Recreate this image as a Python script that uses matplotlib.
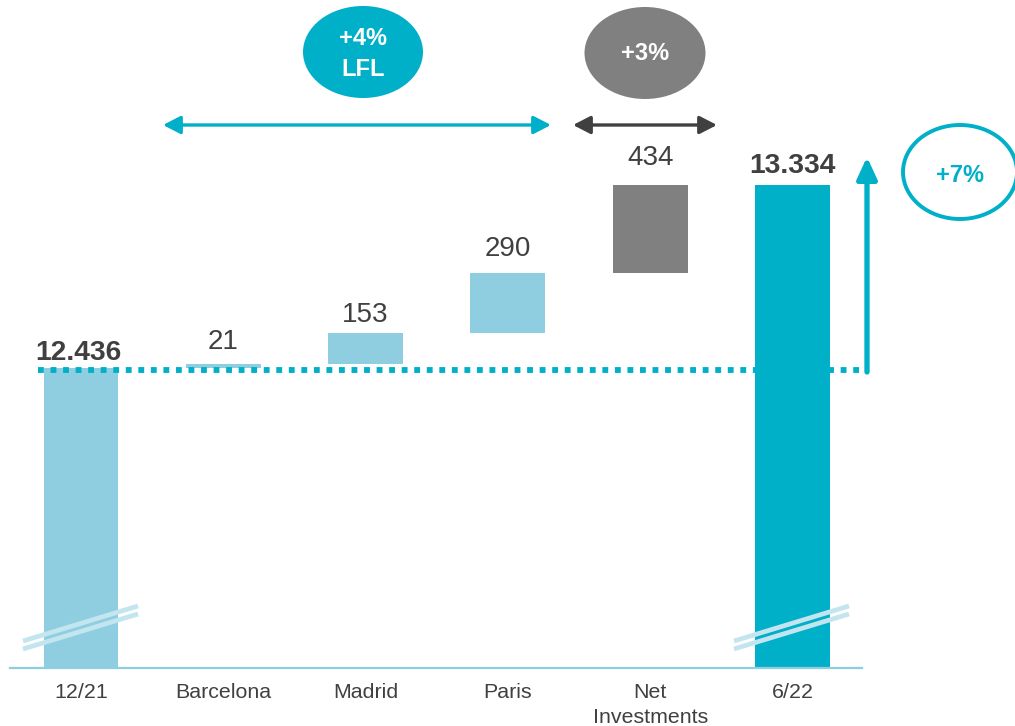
import matplotlib
matplotlib.use("Agg")
import matplotlib.pyplot as plt
from matplotlib.patches import Ellipse, FancyArrowPatch

plt.rcParams['font.family'] = ['Liberation Sans', 'DejaVu Sans']

categories = ["12/21", "Barcelona", "Madrid", "Paris", "Net\nInvestments", "6/22"]
start_value = 12436
deltas = [21, 153, 290, 434]
end_value = 13334
value_labels = ["12.436", "21", "153", "290", "434", "13.334"]
lfl_label = "+4%\nLFL"
inv_label = "+3%"
total_label = "+7%"

LIGHT = "#8fcee0"
TEAL = "#00afc8"
GRAY = "#808080"
DARK = "#404040"
BREAK = "#c3e5ef"

W, H = 1015, 726
fig = plt.figure(figsize=(W / 100, H / 100), dpi=100)

def fx(x):
    return x / W

def fy(y):
    return 1 - y / H

ax = fig.add_axes([fx(10), fy(668), fx(862) - fx(10), fy(0) - fy(668)])
x0_px, step_px = 81, 142.3
ax.set_xlim((10 - x0_px) / step_px, (862 - x0_px) / step_px)
units_per_px = (end_value - start_value) / 183.0
ymin = start_value - 300 * units_per_px
ymax = start_value + 368 * units_per_px
ax.set_ylim(ymin, ymax)

bw = 0.527
bottoms = [ymin]
heights = [start_value - ymin]
colors = [LIGHT]
cum = start_value
for d in deltas[:3]:
    bottoms.append(cum)
    heights.append(d)
    colors.append(LIGHT)
    cum += d
bottoms.append(cum)
heights.append(deltas[3])
colors.append(GRAY)
cum += deltas[3]
bottoms.append(ymin)
heights.append(end_value - ymin)
colors.append(TEAL)
xs = list(range(len(categories)))
ax.bar(xs, heights, bottom=bottoms, width=bw, color=colors, zorder=2)

# dotted reference line
ax.hlines(start_value - 2 * units_per_px, (38 - x0_px) / step_px, (868 - x0_px) / step_px,
          colors=TEAL, linewidth=4.2, linestyles=(0, (1, 1.15)), zorder=3, clip_on=False)

# value labels
tops = [start_value] + [b + h for b, h in zip(bottoms[1:5], heights[1:5])] + [end_value]
label_offsets = [1.5, 6, 3, 8, 10, 4]
label_dx = [-2, 0, 0, 0, 0, 0]
for i, (t, lab) in enumerate(zip(tops, value_labels)):
    bold = i in (0, 5)
    ax.annotate(lab, (i, t), xytext=(label_dx[i], label_offsets[i]), textcoords="offset points",
                ha="center", va="bottom", fontsize=20.3 if bold else 20,
                fontweight="bold" if bold else "normal", color=DARK, zorder=4)

for s in ["top", "right", "left"]:
    ax.spines[s].set_visible(False)
ax.spines["bottom"].set_color(LIGHT)
ax.spines["bottom"].set_linewidth(1.6)
ax.set_yticks([])
ax.set_xticks(xs)
ax.set_xticklabels(categories, fontsize=15.4, color=DARK, linespacing=1.4, va="top")
ax.tick_params(axis="x", length=0, pad=11)

# break marks
for cx in (81, 792):
    for off in (0, 8):
        fig.add_artist(plt.Line2D([fx(cx - 58), fx(cx + 57)],
                                  [fy(641 + off), fy(606 + off)],
                                  color=BREAK, linewidth=3.4, zorder=5,
                                  solid_capstyle="butt"))

# ellipses
fig.add_artist(Ellipse((fx(363), fy(52)), fx(120), 92 / H, facecolor=TEAL, edgecolor="none"))
fig.text(fx(363), fy(54), lfl_label, ha="center", va="center", color="white",
         fontsize=17, fontweight="bold", linespacing=1.4)
fig.add_artist(Ellipse((fx(645), fy(53)), fx(121), 92 / H, facecolor=GRAY, edgecolor="none"))
fig.text(fx(645), fy(54), inv_label, ha="center", va="center", color="white",
         fontsize=17, fontweight="bold")
fig.add_artist(Ellipse((fx(960), fy(172)), fx(114), 94 / H, facecolor="none",
                       edgecolor=TEAL, linewidth=2.8))
fig.text(fx(960), fy(175), total_label, ha="center", va="center", color=TEAL,
         fontsize=17, fontweight="bold")

# horizontal arrows
fig.add_artist(FancyArrowPatch(
    (fx(163), fy(125)), (fx(551), fy(125)), transform=fig.transFigure,
    arrowstyle="<|-|>,head_length=10.5,head_width=5.4", color=TEAL, linewidth=2.4,
    shrinkA=0, shrinkB=0))
fig.add_artist(FancyArrowPatch(
    (fx(573), fy(125)), (fx(717), fy(125)), transform=fig.transFigure,
    arrowstyle="<|-|>,head_length=10.5,head_width=5.4", color=DARK, linewidth=2.4,
    shrinkA=0, shrinkB=0))
# vertical arrow
fig.add_artist(FancyArrowPatch(
    (fx(867), fy(372)), (fx(867), fy(157)), transform=fig.transFigure,
    arrowstyle="-|>,head_length=13,head_width=6", color=TEAL, linewidth=3.8,
    shrinkA=0, shrinkB=0))

fig.savefig("out.png", dpi=100)
